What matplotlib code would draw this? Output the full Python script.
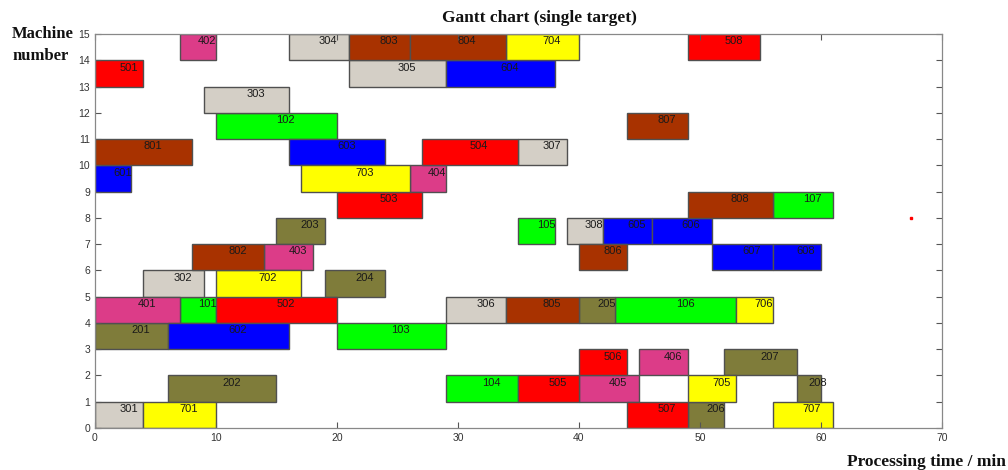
import matplotlib
matplotlib.use("Agg")
import matplotlib.pyplot as plt

# --- Schedule data: operation label, machine (row), start, end ---
ops = [101, 102, 103, 104, 105, 106, 107,
       201, 202, 203, 204, 205, 206, 207, 208,
       301, 302, 303, 304, 305, 306, 307, 308,
       401, 402, 403, 404, 405, 406,
       501, 502, 503, 504, 505, 506, 507, 508,
       601, 602, 603, 604, 605, 606, 607, 608,
       701, 702, 703, 704, 705, 706, 707,
       801, 802, 803, 804, 805, 806, 807, 808]
machines = [4, 11, 3, 1, 7, 4, 8,
            3, 1, 7, 5, 4, 0, 2, 1,
            0, 5, 12, 14, 13, 4, 10, 7,
            4, 14, 6, 9, 1, 2,
            13, 4, 8, 10, 1, 2, 0, 14,
            9, 3, 10, 13, 7, 7, 6, 6,
            0, 5, 9, 14, 1, 4, 0,
            10, 6, 14, 14, 4, 6, 11, 8]
starts = [7, 10, 20, 29, 35, 43, 56,
          0, 6, 15, 19, 40, 49, 52, 58,
          0, 4, 9, 16, 21, 29, 35, 39,
          0, 7, 14, 26, 40, 45,
          0, 10, 20, 27, 35, 40, 44, 49,
          0, 6, 16, 29, 42, 46, 51, 56,
          4, 10, 17, 34, 49, 53, 56,
          0, 8, 21, 26, 34, 40, 44, 49]
ends = [10, 20, 29, 35, 38, 53, 61,
        6, 15, 19, 24, 43, 52, 58, 60,
        4, 9, 16, 21, 29, 34, 39, 42,
        7, 10, 18, 29, 45, 49,
        4, 20, 27, 35, 40, 44, 49, 55,
        3, 16, 24, 38, 46, 51, 56, 60,
        10, 17, 26, 40, 53, 56, 61,
        8, 14, 26, 34, 40, 44, 49, 56]

job_colors = {1: "#00ff00", 2: "#7f7c3a", 3: "#d4cfc6", 4: "#dc3c88",
              5: "#ff0000", 6: "#0000ff", 7: "#ffff00", 8: "#a83200"}

fig = plt.figure(figsize=(10.08, 4.70), dpi=100)
ax = fig.add_axes([0.0942, 0.0894, 0.8403, 0.8383])

for op, m, s, e in zip(ops, machines, starts, ends):
    ax.barh(m, e - s, left=s, height=1.0, align="edge",
            color=job_colors[op // 100], edgecolor="#505050", linewidth=1.0)
    ax.text(s + (e - s) / 2, m + 0.72, str(op), ha="left", va="center",
            fontsize=8, family="Liberation Sans", color="#1a1a1a")

# stray marker in the original figure
ax.plot([67.4], [8.0], marker="s", color="red", markersize=1.5)

ax.set_xlim(0, 70)
ax.set_ylim(0, 15)
ax.set_xticks(range(0, 71, 10))
ax.set_yticks(range(0, 16))
ax.tick_params(direction="in", length=4, width=0.8, colors="#555555",
               labelsize=7.5, labelcolor="#333333", top=True, right=True)
for lab in ax.get_xticklabels() + ax.get_yticklabels():
    lab.set_family("Liberation Sans")
for sp in ax.spines.values():
    sp.set_color("#888888")
    sp.set_linewidth(0.9)

fig.text(0.535, 0.962, "Gantt chart (single target)", ha="center", va="center",
         fontsize=12.5, family="Liberation Serif", fontweight="bold", color="#111111")
fig.text(0.012, 0.905, "Machine\nnumber", ha="left", va="center",
         fontsize=12, family="Liberation Serif", fontweight="bold",
         color="#111111", linespacing=1.5)
fig.text(0.998, 0.017, "Processing time / min", ha="right", va="center",
         fontsize=12.5, family="Liberation Serif", fontweight="bold", color="#111111")

fig.savefig("out.png", dpi=100)
